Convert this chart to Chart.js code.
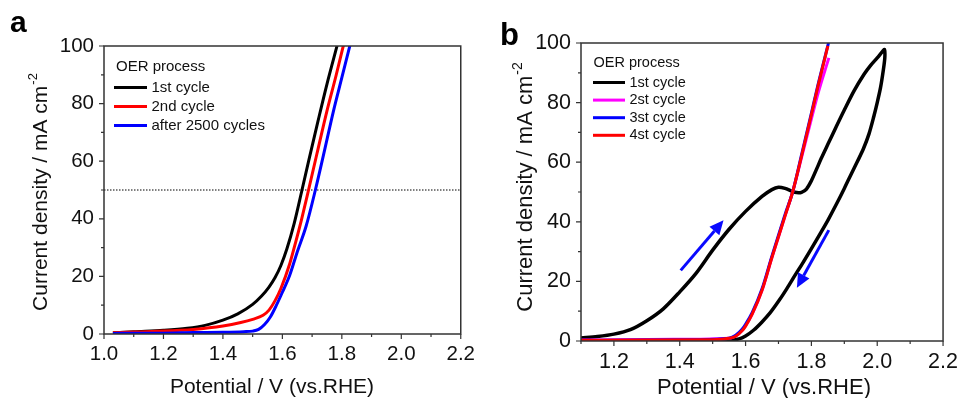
<!DOCTYPE html>
<html>
<head>
<meta charset="utf-8">
<script src="https://cdn.jsdelivr.net/npm/chart.js@4/dist/chart.umd.min.js"></script>
<style>
  html, body { margin: 0; padding: 0; background: #fff; }
  #wrap { position: relative; width: 966px; height: 398px; overflow: hidden; }
  canvas { position: absolute; top: 0; }
  #panelA { left: 0; }
  #panelB { left: 483px; }
</style>
</head>
<body>
<div id="wrap">
  <canvas id="panelA" width="483" height="398"></canvas>
  <canvas id="panelB" width="483" height="398"></canvas>
</div>
<script>
// ---- panel a: OER polarization curves ----
const labelsA = ['1st cycle', '2nd cycle', 'after 2500 cycles'];

const potA1 = [1.03, 1.10, 1.20, 1.28, 1.34, 1.40, 1.45, 1.50, 1.53, 1.555, 1.575, 1.595, 1.615, 1.64, 1.666, 1.69, 1.72, 1.75, 1.785];
const curA1 = [0.4, 0.8, 1.3, 2.0, 3.0, 4.8, 7.0, 10.3, 13.2, 16.3, 19.5, 23.8, 29.5, 38.5, 50.0, 60.8, 74.0, 86.8, 100.5];

const potA2 = [1.03, 1.10, 1.20, 1.30, 1.40, 1.46, 1.50, 1.535, 1.555, 1.575, 1.595, 1.625, 1.645, 1.665, 1.688, 1.716, 1.75, 1.78, 1.806];
const curA2 = [0.4, 0.7, 1.0, 1.6, 2.8, 4.0, 5.1, 6.5, 8.3, 11.5, 15.8, 24.5, 32.0, 40.0, 50.0, 62.5, 77.5, 89.5, 100.5];

const potA3 = [1.03, 1.10, 1.20, 1.30, 1.40, 1.47, 1.50, 1.52, 1.54, 1.56, 1.58, 1.60, 1.625, 1.65, 1.68, 1.711, 1.738, 1.772, 1.80, 1.828];
const curA3 = [0.2, 0.3, 0.3, 0.5, 0.6, 0.8, 1.0, 1.6, 3.3, 6.0, 10.0, 14.5, 20.5, 28.5, 37.5, 50.0, 62.0, 77.5, 89.0, 100.5];

const refLineA = 50;

// ---- panel b: CV cycles ----
const labelsB = ['1st cycle', '2st cycle', '3st cycle', '4st cycle'];

// 1st cycle: anodic sweep up to 2.02 V, then back down
const potB1 = [1.10, 1.15, 1.20, 1.25, 1.30, 1.35, 1.40, 1.45, 1.50, 1.55, 1.60, 1.65, 1.68, 1.70, 1.72, 1.74, 1.755, 1.77, 1.785, 1.80, 1.815, 1.83, 1.85, 1.875, 1.90, 1.93, 1.96, 1.98, 2.00, 2.015, 2.022,
               2.023, 2.018, 2.01, 2.00, 1.99, 1.975, 1.958, 1.94, 1.92, 1.90, 1.875, 1.85, 1.825, 1.80, 1.775, 1.75, 1.725, 1.70, 1.675, 1.65, 1.625, 1.60, 1.58, 1.55, 1.45, 1.30, 1.10];
const curB1 = [1.0, 1.5, 2.3, 3.8, 6.8, 10.8, 16.5, 22.8, 30.5, 37.5, 43.5, 48.5, 50.8, 51.6, 51.2, 50.3, 49.8, 49.9, 51.0, 53.8, 57.5, 61.3, 66.0, 71.8, 77.5, 84.0, 89.5, 92.5, 95.0, 97.0, 97.8,
               95.0, 90.5, 85.0, 80.0, 75.5, 69.5, 64.5, 60.3, 55.8, 51.2, 45.7, 40.5, 35.7, 31.0, 26.4, 22.0, 17.5, 13.3, 9.5, 6.4, 3.7, 1.7, 0.7, 0.3, 0.2, 0.1, 0.1];

const potB2 = [1.10, 1.30, 1.45, 1.55, 1.57, 1.59, 1.60, 1.62, 1.65, 1.68, 1.70, 1.72, 1.743, 1.77, 1.80, 1.82, 1.853];
const curB2 = [0.3, 0.5, 0.6, 0.9, 1.7, 3.6, 5.1, 9.0, 17.0, 28.0, 35.0, 42.0, 50.0, 61.5, 74.5, 83.0, 95.0];

const potB3 = [1.10, 1.30, 1.45, 1.55, 1.57, 1.59, 1.60, 1.62, 1.65, 1.68, 1.70, 1.72, 1.743, 1.77, 1.80, 1.82, 1.852];
const curB3 = [0.2, 0.3, 0.4, 0.9, 1.9, 4.0, 5.6, 9.5, 17.5, 28.5, 35.5, 42.5, 50.0, 62.5, 76.5, 86.0, 100.0];

const potB4 = [1.10, 1.30, 1.50, 1.55, 1.57, 1.59, 1.60, 1.62, 1.65, 1.68, 1.70, 1.72, 1.743, 1.77, 1.80, 1.82, 1.85];
const curB4 = [0.2, 0.3, 0.4, 0.9, 1.6, 3.5, 5.0, 9.0, 17.0, 28.0, 35.0, 42.0, 50.0, 62.0, 76.0, 85.5, 99.0];

// scan direction arrows: [potential, current] start and end
const arrowsB = [
  { from: [1.403, 23.7], to: [1.533, 40.5] },
  { from: [1.853, 37.2], to: [1.756, 17.9] }
];

const FONT = '"Liberation Sans", Arial, sans-serif';

function zip(xs, ys) {
  return xs.map((x, i) => ({ x: x, y: ys[i] }));
}

// monotone curves use monotone cubic interpolation, the CV loop a plain spline
function curve(label, xs, ys, color, order, width, loop) {
  const ds = {
    label: label,
    data: zip(xs, ys),
    borderColor: color,
    backgroundColor: color,
    borderWidth: width,
    pointRadius: 0,
    showLine: true,
    order: order
  };
  if (loop) {
    ds.tension = 0.3;
  } else {
    ds.cubicInterpolationMode = 'monotone';
  }
  return ds;
}

// frame, minor/major ticks, axis titles, legend, arrows, panel letter
const panelDecor = {
  id: 'panelDecor',
  afterDraw(chart, args, o) {
    const { ctx, chartArea: area, scales: { x, y } } = chart;
    ctx.save();

    // arrows
    ctx.strokeStyle = '#0a0aff';
    ctx.fillStyle = '#0a0aff';
    ctx.lineWidth = 3;
    (o.arrows || []).forEach(a => {
      const x0 = x.getPixelForValue(a.from[0]), y0 = y.getPixelForValue(a.from[1]);
      const x1 = x.getPixelForValue(a.to[0]), y1 = y.getPixelForValue(a.to[1]);
      const ang = Math.atan2(y1 - y0, x1 - x0);
      const hl = 14, hw = 6.5;
      const bx = x1 - hl * Math.cos(ang), by = y1 - hl * Math.sin(ang);
      ctx.beginPath();
      ctx.moveTo(x0, y0);
      ctx.lineTo(bx, by);
      ctx.stroke();
      ctx.beginPath();
      ctx.moveTo(x1, y1);
      ctx.lineTo(bx + hw * Math.sin(ang), by - hw * Math.cos(ang));
      ctx.lineTo(bx - hw * Math.sin(ang), by + hw * Math.cos(ang));
      ctx.closePath();
      ctx.fill();
    });

    // frame
    ctx.strokeStyle = '#333';
    ctx.lineWidth = 1.5;
    ctx.strokeRect(area.left, area.top, area.right - area.left, area.bottom - area.top);

    // outward ticks, long on labelled values
    ctx.lineWidth = 1.2;
    ctx.beginPath();
    x.ticks.forEach(t => {
      const px = x.getPixelForValue(t.value);
      const len = t.label !== '' ? 5 : 3;
      ctx.moveTo(px, area.bottom);
      ctx.lineTo(px, area.bottom + len);
    });
    y.ticks.forEach(t => {
      const py = y.getPixelForValue(t.value);
      const len = t.label !== '' ? 5 : 3;
      ctx.moveTo(area.left, py);
      ctx.lineTo(area.left - len, py);
    });
    ctx.stroke();

    // legend
    const lg = o.legend;
    ctx.fillStyle = '#111';
    ctx.font = lg.size + 'px ' + FONT;
    ctx.textAlign = 'left';
    ctx.textBaseline = 'alphabetic';
    ctx.fillText(lg.title, lg.titleX, lg.titleY);
    ctx.textBaseline = 'middle';
    let row = 0;
    chart.data.datasets.forEach(ds => {
      if (!ds.label) return;
      const ly = lg.rowY + row * lg.rowGap;
      ctx.strokeStyle = ds.borderColor;
      ctx.lineWidth = 3;
      ctx.beginPath();
      ctx.moveTo(lg.lineX, ly);
      ctx.lineTo(lg.lineX + lg.lineLen, ly);
      ctx.stroke();
      ctx.fillText(ds.label, lg.textX, ly);
      row++;
    });

    // x title
    ctx.fillStyle = '#111';
    ctx.font = o.titleSize + 'px ' + FONT;
    ctx.textAlign = 'center';
    ctx.textBaseline = 'alphabetic';
    ctx.fillText('Potential / V (vs.RHE)', o.xTitle[0], o.xTitle[1]);

    // y title with superscript
    const main = 'Current density / mA cm';
    const sup = '-2';
    const supSize = Math.round(o.titleSize * 0.62);
    ctx.font = o.titleSize + 'px ' + FONT;
    const wMain = ctx.measureText(main).width;
    ctx.font = supSize + 'px ' + FONT;
    const wSup = ctx.measureText(sup).width;
    const total = wMain + wSup + 1;
    ctx.translate(o.yTitle[0], o.yTitle[1]);
    ctx.rotate(-Math.PI / 2);
    ctx.textAlign = 'left';
    ctx.font = o.titleSize + 'px ' + FONT;
    ctx.fillText(main, -total / 2, 0);
    ctx.font = supSize + 'px ' + FONT;
    ctx.fillText(sup, -total / 2 + wMain + 1, -o.titleSize * 0.44);
    ctx.setTransform(1, 0, 0, 1, 0, 0);

    // panel letter
    ctx.font = 'bold ' + o.letterSize + 'px ' + FONT;
    ctx.fillStyle = '#000';
    ctx.textAlign = 'left';
    ctx.fillText(o.letter, o.letterPos[0], o.letterPos[1]);

    ctx.restore();
  }
};

function axes(xMin, xMax, tickSize, yWidth, xHeight) {
  return {
    x: {
      type: 'linear',
      min: xMin,
      max: xMax,
      grid: { display: false, drawTicks: false, tickLength: 0 },
      border: { display: false },
      afterFit: s => { s.height = xHeight; },
      ticks: {
        stepSize: 0.1,
        autoSkip: false,
        maxRotation: 0,
        padding: 8,
        color: '#111',
        font: { family: FONT, size: tickSize },
        callback: v => (Math.round(v * 10) % 2 === 0 ? v.toFixed(1) : '')
      }
    },
    y: {
      type: 'linear',
      min: 0,
      max: 100,
      grid: { display: false, drawTicks: false, tickLength: 0 },
      border: { display: false },
      afterFit: s => { s.width = yWidth; },
      ticks: {
        stepSize: 10,
        autoSkip: false,
        padding: 10,
        color: '#111',
        font: { family: FONT, size: tickSize },
        callback: v => (Math.round(v) % 20 === 0 ? String(Math.round(v)) : '')
      }
    }
  };
}

new Chart(document.getElementById('panelA'), {
  type: 'scatter',
  data: {
    datasets: [
      curve(labelsA[0], potA1, curA1, '#000000', 3, 3),
      curve(labelsA[1], potA2, curA2, '#ff0000', 2, 3),
      curve(labelsA[2], potA3, curA3, '#0000ff', 1, 3),
      {
        data: [{ x: 1.0, y: refLineA }, { x: 2.2, y: refLineA }],
        borderColor: '#000',
        borderWidth: 1,
        borderDash: [1.5, 1.5],
        pointRadius: 0,
        showLine: true,
        order: 4
      }
    ]
  },
  options: {
    responsive: false,
    animation: false,
    layout: { padding: { top: 46, right: 22, left: 0, bottom: 0 } },
    scales: axes(1.0, 2.2, 20.5, 104, 64),
    plugins: {
      legend: { display: false },
      tooltip: { enabled: false },
      panelDecor: {
        letter: 'a', letterSize: 30, letterPos: [10, 32],
        titleSize: 21, xTitle: [272, 392.5], yTitle: [46.5, 192],
        legend: { title: 'OER process', size: 15, titleX: 116, titleY: 70.5,
                  lineX: 114, lineLen: 33, textX: 151.5, rowY: 87.5, rowGap: 19 }
      }
    }
  },
  plugins: [panelDecor]
});

new Chart(document.getElementById('panelB'), {
  type: 'scatter',
  data: {
    datasets: [
      curve(labelsB[0], potB1, curB1, '#000000', 4, 3.5, true),
      curve(labelsB[1], potB2, curB2, '#ff00ff', 3, 3),
      curve(labelsB[2], potB3, curB3, '#0000ff', 2, 3),
      curve(labelsB[3], potB4, curB4, '#ff0000', 1, 3)
    ]
  },
  options: {
    responsive: false,
    animation: false,
    layout: { padding: { top: 43, right: 17, left: 0, bottom: 0 } },
    scales: axes(1.1, 2.2, 21.5, 98, 57),
    plugins: {
      legend: { display: false },
      tooltip: { enabled: false },
      panelDecor: {
        letter: 'b', letterSize: 31, letterPos: [17, 45],
        titleSize: 22, xTitle: [281, 394], yTitle: [49, 187],
        legend: { title: 'OER process', size: 14.5, titleX: 110.5, titleY: 66.5,
                  lineX: 110, lineLen: 32, textX: 146.5, rowY: 82.5, rowGap: 17.6 },
        arrows: arrowsB
      }
    }
  },
  plugins: [panelDecor]
});
</script>
</body>
</html>
